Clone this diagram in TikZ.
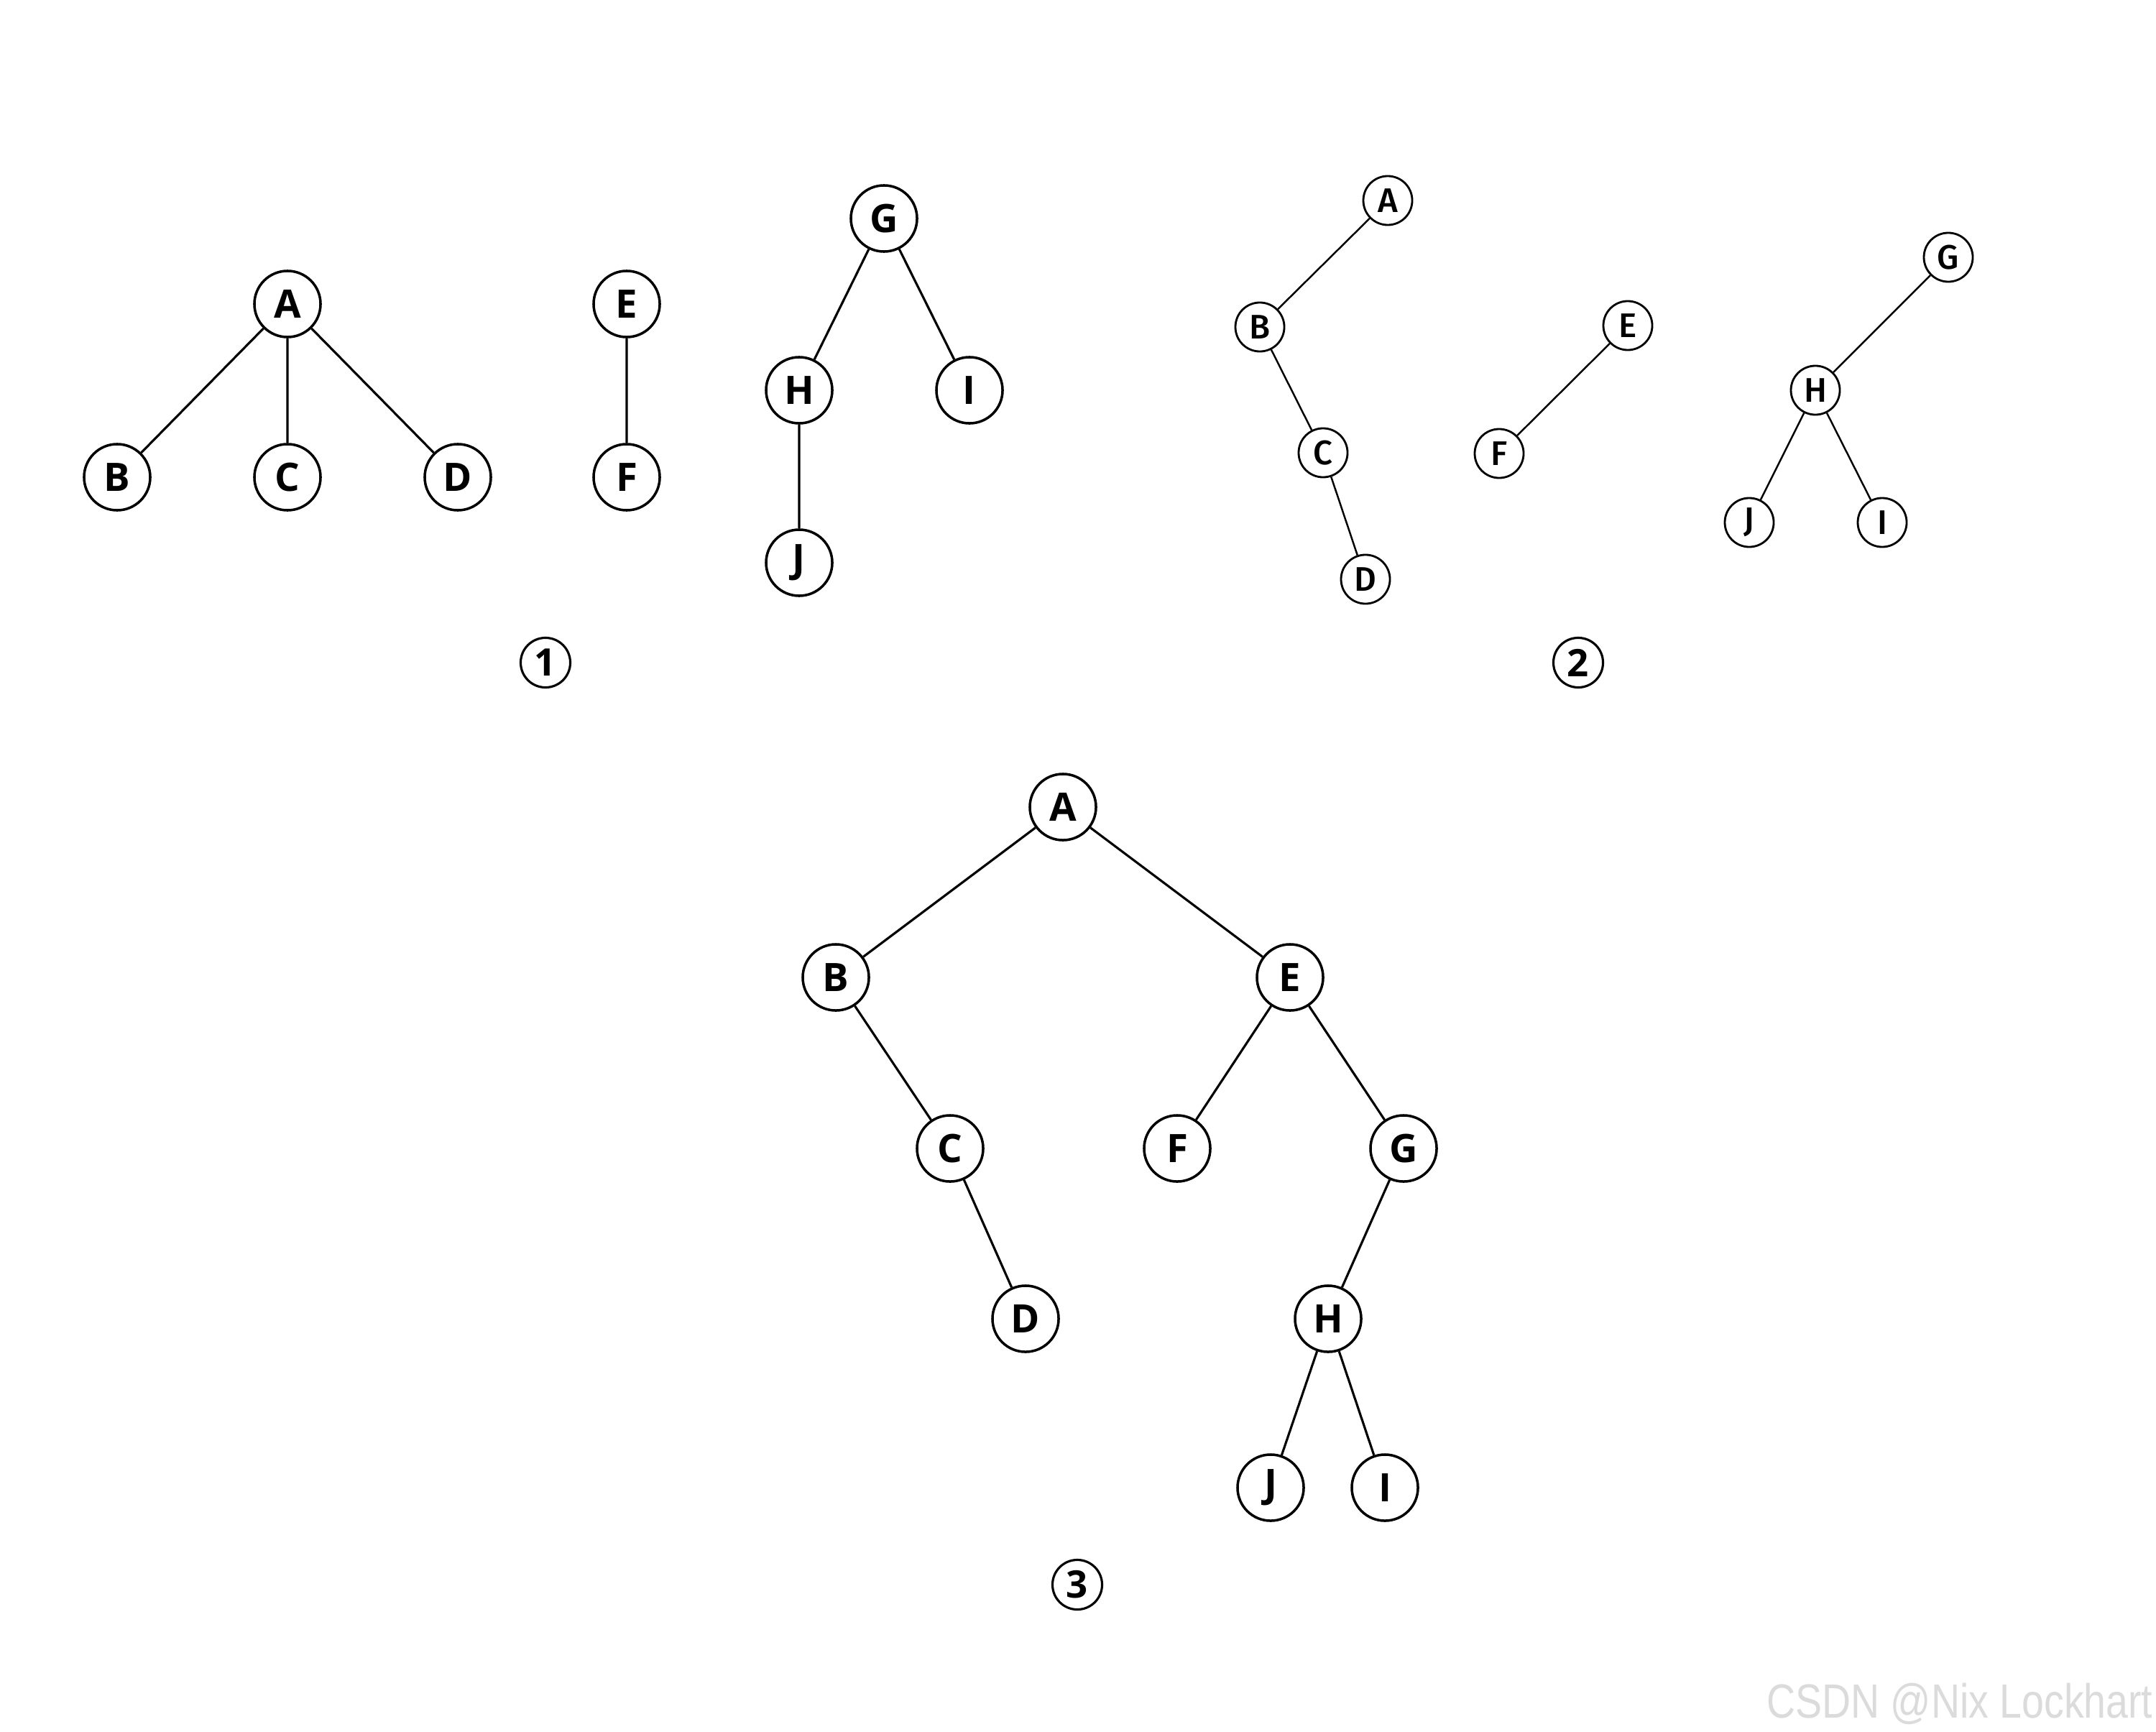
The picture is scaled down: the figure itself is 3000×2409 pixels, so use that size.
\documentclass[tikz,border=0pt]{standalone}
\usepackage{fontspec}
\setmainfont{Open Sans}
\newfontfamily\semifont{Fira Sans}[UprightFont={* Medium}]
\newfontfamily\wmfont{Liberation Sans}
\begin{document}
\begin{tikzpicture}[x=0.01cm,y=-0.01cm,
  big/.style={circle,draw,line width=1pt,minimum size=0.92cm,inner sep=0pt,font=\fontsize{15.5}{16}\selectfont\bfseries},
  small/.style={circle,draw,line width=0.8pt,minimum size=0.68cm,inner sep=0pt,font=\semifont\fontsize{13.5}{14}\selectfont},
  num/.style={circle,draw,line width=0.9pt,minimum size=0.69cm,inner sep=0pt,font=\fontsize{15}{16}\selectfont\bfseries},
  edgeone/.style={line width=0.9pt},
  edgetwo/.style={line width=0.7pt}]
\useasboundingbox[fill=white] (0,0) rectangle (3000,2409);
% panel 1
\node[big] (a1) at (400,423) {A};
\node[big] (b1) at (163,664) {B};
\node[big] (c1) at (400,664) {C};
\node[big] (d1) at (637,664) {D};
\node[big] (e1) at (872,423) {E};
\node[big] (f1) at (872,664) {F};
\node[big] (g1) at (1230,304) {G};
\node[big] (h1) at (1112,543) {H};
\node[big] (i1) at (1349,543) {I};
\node[big] (j1) at (1112,783) {J};
\draw[edgeone] (a1)--(b1) (a1)--(c1) (a1)--(d1) (e1)--(f1) (g1)--(h1) (g1)--(i1) (h1)--(j1);
\node[num] (n1) at (759,922) {1};
% panel 2
\node[small] (a2) at (1931,279) {A};
\node[small] (b2) at (1753,455) {B};
\node[small] (c2) at (1841,630) {C};
\node[small] (d2) at (1900,806) {D};
\node[small] (e2) at (2265,453) {E};
\node[small] (f2) at (2086,631) {F};
\node[small] (g2) at (2711,358) {G};
\node[small] (h2) at (2526,543) {H};
\node[small] (j2) at (2434,727) {J};
\node[small] (i2) at (2619,727) {I};
\draw[edgetwo] (a2)--(b2) (b2)--(c2) (c2)--(d2) (e2)--(f2) (g2)--(h2) (h2)--(j2) (h2)--(i2);
\node[num] (n2) at (2196,922) {2};
% panel 3
\node[big] (a3) at (1479,1123) {A};
\node[big] (b3) at (1163,1360) {B};
\node[big] (e3) at (1795,1360) {E};
\node[big] (c3) at (1322,1598) {C};
\node[big] (f3) at (1638,1598) {F};
\node[big] (g3) at (1953,1598) {G};
\node[big] (d3) at (1427,1835) {D};
\node[big] (h3) at (1848,1835) {H};
\node[big] (j3) at (1768,2070) {J};
\node[big] (i3) at (1927,2070) {I};
\draw[edgeone] (a3)--(b3) (a3)--(e3) (b3)--(c3) (c3)--(d3) (e3)--(f3) (e3)--(g3) (g3)--(h3) (h3)--(j3) (h3)--(i3);
\node[num] (n3) at (1499,2205) {3};
% watermark
\node[anchor=base east,inner sep=0pt,text=black!14,font=\wmfont\fontsize{19}{20}\selectfont,xscale=0.83] (wm) at (2996,2390) {CSDN @Nix Lockhart};
\end{tikzpicture}
\end{document}
